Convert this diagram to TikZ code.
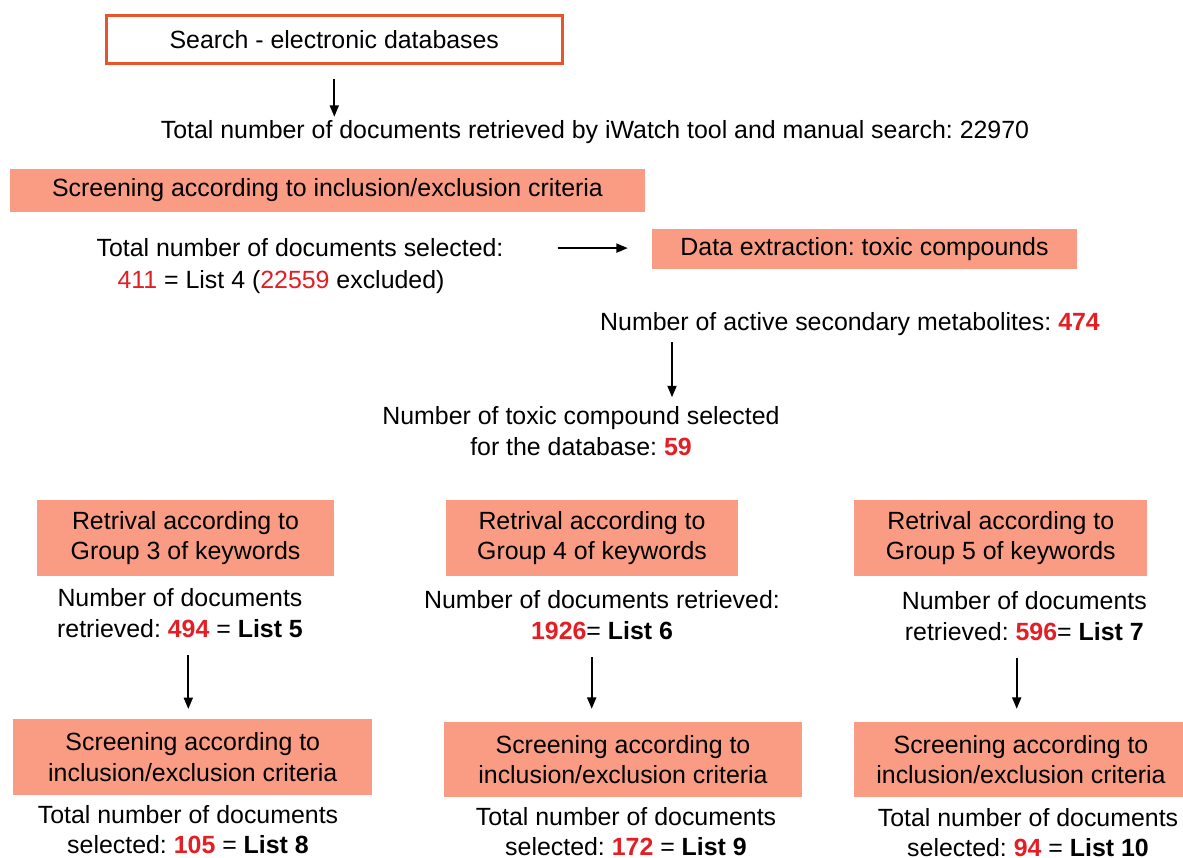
\documentclass[tikz,border=0pt]{standalone}
\usepackage{fontspec}
\setmainfont{Liberation Sans}
\usetikzlibrary{arrows.meta}

\definecolor{panelfill}{HTML}{FA9B83}
\definecolor{numred}{HTML}{E31E24}
\definecolor{frameline}{HTML}{E8542C}

\newcommand{\rn}[1]{\textcolor{numred}{#1}}
\newcommand{\rb}[1]{\textcolor{numred}{\textbf{#1}}}

\tikzset{
  txtbase/.style={font=\fontsize{24.9}{30.5}\selectfont\frenchspacing, inner sep=0pt, align=center},
  lbl/.style={txtbase, anchor=base},
  panel/.style={txtbase, fill=panelfill, draw=none},
  framebox/.style={txtbase, draw=frameline, line width=2.7pt, fill=white},
  arr/.style={line width=2pt, -{Triangle[length=11.5pt,width=9pt]}},
}

\begin{document}
\begin{tikzpicture}[x=1pt,y=-1pt]
\useasboundingbox[fill=white] (0,0) rectangle (1183,858);

% top of the flow (multi-line labels are placed at the baseline of their last line)
\node[framebox, minimum width=456pt, minimum height=48pt] (search) at (334.3,39.2)
  {Search - electronic databases};
\node[lbl] (total) at (595,139)
  {Total number of documents retrieved by iWatch tool and manual search: 22970};
\node[panel, minimum width=635pt, minimum height=43pt] (scr1) at (327.5,190.5)
  {Screening according to inclusion/exclusion criteria};
\node[lbl] (sel) at (300,257) {Total number of documents selected:};
\node[lbl] (sellist) at (281,288.3) {\rn{411} = List 4 (\rn{22559} excluded)};
\node[panel, minimum width=425pt, minimum height=40pt] (data) at (864.5,249)
  {Data extraction: toxic compounds};
\node[lbl] (metab) at (850,331) {Number of active secondary metabolites: \rb{474}};
\node[lbl] (toxic) at (581,455) {Number of toxic compound selected\\for the database: \rb{59}};

% group 3
\node[panel, minimum width=297.6pt, minimum height=76pt] (g3) at (185.5,538)
  {Retrival according to\\Group 3 of keywords};
\node[lbl] (retr3) at (180,637) {Number of documents\\retrieved: \rb{494} = \textbf{List 5}};
\node[panel, minimum width=359pt, minimum height=76.3pt] (scr3) at (192.8,756.9)
  {Screening according to\\inclusion/exclusion criteria};
\node[lbl] (sel3) at (188,853.5) {Total number of documents\\selected: \rb{105} = \textbf{List 8}};

% group 4
\node[panel, minimum width=292.6pt, minimum height=76pt] (g4) at (592,538)
  {Retrival according to\\Group 4 of keywords};
\node[lbl] (retr4) at (602,639) {Number of documents retrieved:\\\rb{1926}= \textbf{List 6}};
\node[panel, minimum width=358pt, minimum height=75.3pt] (scr4) at (623,759.4)
  {Screening according to\\inclusion/exclusion criteria};
\node[lbl] (sel4) at (626,855.7) {Total number of documents\\selected: \rb{172} = \textbf{List 9}};

% group 5
\node[panel, minimum width=293pt, minimum height=76pt] (g5) at (1000.8,538)
  {Retrival according to\\Group 5 of keywords};
\node[lbl] (retr5) at (1024.3,640) {Number of documents\\retrieved: \rb{596}= \textbf{List 7}};
\node[panel, minimum width=334pt, minimum height=75.6pt] (scr5) at (1021,759.5)
  {Screening according to\\inclusion/exclusion criteria};
\node[lbl] (sel5) at (1028,856.7) {Total number of documents\\selected: \rb{94} = \textbf{List 10}};

% connectors
\draw[arr, shorten <=14pt, shorten >=4pt] (search.south) -- (search.south |- total.north);
\draw[arr, shorten <=54pt, shorten >=24pt] (sel.east) -- (sel.east -| data.west);
\draw[arr, shorten <=6pt, shorten >=9pt] ([xshift=91pt]toxic.north |- metab.south) -- ([xshift=91pt]toxic.north);
\draw[arr, shorten <=18pt, shorten >=9.5pt] ([xshift=8.3pt]retr3.south) -- ([xshift=8.3pt]retr3.south |- scr3.north);
\draw[arr, shorten <=18pt, shorten >=12.7pt] ([xshift=-10.3pt]retr4.south) -- ([xshift=-10.3pt]retr4.south |- scr4.north);
\draw[arr, shorten <=18pt, shorten >=12.7pt] ([xshift=-7.6pt]retr5.south) -- ([xshift=-7.6pt]retr5.south |- scr5.north);
\end{tikzpicture}
\end{document}
